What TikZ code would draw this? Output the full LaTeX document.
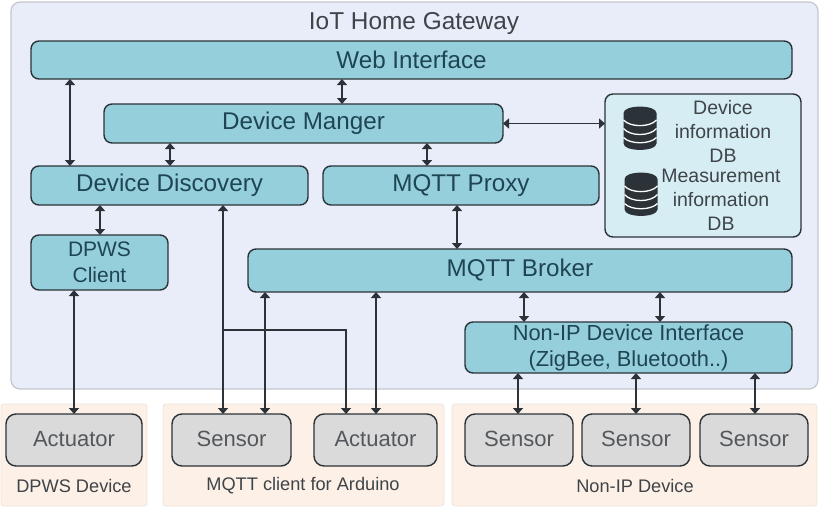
\documentclass[tikz,border=0pt]{standalone}
\usepackage{fontspec}
\setmainfont{Liberation Sans}
\usetikzlibrary{arrows.meta}
\definecolor{gw}{HTML}{E9EDF9}
\definecolor{gwb}{HTML}{C4C8CC}
\definecolor{teal}{HTML}{95CFDC}
\definecolor{dbf}{HTML}{D6EEF3}
\definecolor{pan}{HTML}{FCF0E7}
\definecolor{grayb}{HTML}{DADADA}
\definecolor{ink}{HTML}{2B3238}
\definecolor{txt}{HTML}{3F4449}
\definecolor{tealtxt}{HTML}{1F4552}
\definecolor{graytxt}{HTML}{54585C}
\tikzset{
  x=1pt,y=-1pt,
  base/.style={outer sep=0pt,inner sep=0pt,align=center,text=txt,anchor=center},
  tealbox/.style={base,text=tealtxt,draw=ink,line width=1.4pt,fill=teal,rounded corners=8pt,font=\fontsize{24.2}{27}\selectfont},
  tealsmall/.style={tealbox,font=\fontsize{21}{26}\selectfont},
  tealmid/.style={tealbox,font=\fontsize{21.8}{26}\selectfont},
  dbbox/.style={base,draw=ink,line width=1.4pt,fill=dbf,rounded corners=8pt},
  graybox/.style={base,text=graytxt,draw=ink,line width=1.4pt,fill=grayb,rounded corners=10pt,font=\fontsize{22}{26}\selectfont},
  panel/.style={base,fill=pan,draw=pan!90!gray,line width=.8pt,rounded corners=3pt},
  gateway/.style={base,fill=gw,draw=gwb,line width=1.2pt,rounded corners=9pt},
  lab/.style={base,font=\fontsize{18.2}{21}\selectfont},
  dbtext/.style={base,font=\fontsize{19.5}{24}\selectfont},
  both/.style={draw=ink,line width=1.4pt,{Triangle[length=6pt,width=10pt]}-{Triangle[length=6pt,width=10pt]}},
  oneway/.style={draw=ink,line width=1.4pt,-{Triangle[length=6pt,width=10pt]}},
}
% box from corner to corner: style, name, x1,y1,x2,y2, text
\newcommand{\rbox}[7]{\node[#1,minimum width={(#5)-(#3)},minimum height={(#6)-(#4)}] (#2) at ({((#3)+(#5))/2},{((#4)+(#6))/2}) {#7};}
\newcommand{\vlink}[3]{\coordinate (tmpx) at (#3,0); \draw[both] (#1.south -| tmpx) -- (#2.north -| tmpx);}
\newcommand{\dbicon}[2]{%
  \begin{scope}[shift={(#1,#2)}]
    \fill[ink] (-16.5,-15.5) .. controls (-16.5,-24) and (16.5,-24) .. (16.5,-15.5)
      -- (16.5,15) .. controls (16.5,23.5) and (-16.5,23.5) .. (-16.5,15) -- cycle;
    \draw[white!90!dbf,line width=1.3pt] (-16.5,-8.5) .. controls (-10,-1) and (10,-1) .. (16.5,-8.5);
    \draw[white!90!dbf,line width=1.3pt] (-16.5,0) .. controls (-10,8) and (10,8) .. (16.5,0);
    \draw[white!90!dbf,line width=1.3pt] (-16.5,9) .. controls (-10,16) and (10,16) .. (16.5,9);
  \end{scope}}
\begin{document}
\begin{tikzpicture}
\useasboundingbox (0,0) rectangle (820,509);
\fill[white] (0,0) rectangle (820,509);
\rbox{gateway}{gate}{11}{2}{818}{389}{}
\node[base,font=\fontsize{24.4}{28}\selectfont] (title) at (414,24) {IoT Home Gateway};
\rbox{panel}{p1}{1}{404}{147}{506}{}
\rbox{panel}{p2}{163}{404}{444}{506}{}
\rbox{panel}{p3}{452}{404}{817}{506}{}
\rbox{tealbox}{web}{31}{41}{792}{79}{\raisebox{1.5pt}{Web Interface}}
\rbox{tealbox}{mgr}{104}{104}{503}{143}{Device Manger}
\rbox{tealbox}{disc}{31}{166}{308}{205}{Device Discovery}
\rbox{tealbox}{proxy}{323}{166}{599}{205}{MQTT Proxy}
\rbox{dbbox}{db}{605}{94}{801}{237}{}
\rbox{tealsmall}{dpws}{31}{235}{168}{290}{DPWS\\Client}
\rbox{tealbox}{broker}{248}{249}{792}{292}{MQTT Broker}
\rbox{tealmid}{nonip}{465}{322}{792}{373}{Non-IP Device Interface\\(ZigBee, Bluetooth..)}
\rbox{graybox}{a1}{6}{414}{142}{466}{\raisebox{1.5pt}{Actuator}}
\rbox{graybox}{s1}{172}{414}{291}{466}{\raisebox{1.5pt}{Sensor}}
\rbox{graybox}{a2}{314}{414}{437}{466}{\raisebox{1.5pt}{Actuator}}
\rbox{graybox}{s2}{465}{414}{573}{466}{\raisebox{1.5pt}{Sensor}}
\rbox{graybox}{s3}{582}{414}{690}{466}{\raisebox{1.5pt}{Sensor}}
\rbox{graybox}{s4}{700}{414}{808}{466}{\raisebox{1.5pt}{Sensor}}
\node[lab] (l1) at (74,486) {DPWS Device};
\node[lab] (l2) at (303,486) {MQTT client for Arduino};
\node[lab] (l3) at (635,486) {Non-IP Device};
\node[dbtext] (t1) at (723,131.5) {Device\\information\\DB};
\node[dbtext] (t2) at (721,200) {Measurement\\information\\DB};
\dbicon{640}{128.5}
\dbicon{641}{194.5}
\vlink{web}{disc}{70}
\vlink{web}{mgr}{342}
\vlink{mgr}{disc}{170}
\vlink{mgr}{proxy}{427}
\vlink{disc}{dpws}{100}
\vlink{proxy}{broker}{457}
\vlink{dpws}{a1}{74}
\vlink{broker}{s1}{265}
\vlink{broker}{a2}{376}
\vlink{broker}{nonip}{524}
\vlink{broker}{nonip}{660}
\vlink{nonip}{s2}{518}
\vlink{nonip}{s3}{636}
\vlink{nonip}{s4}{755}
\draw[both] (mgr.east) -- (db.west |- mgr.east);
\coordinate (dx) at (223,0);
\coordinate (bx) at (346,0);
\coordinate (by) at (0,330);
\draw[both] (disc.south -| dx) -- (s1.north -| dx);
\draw[oneway] (by -| dx) -- (by -| bx) -- (a2.north -| bx);
\end{tikzpicture}
\end{document}
